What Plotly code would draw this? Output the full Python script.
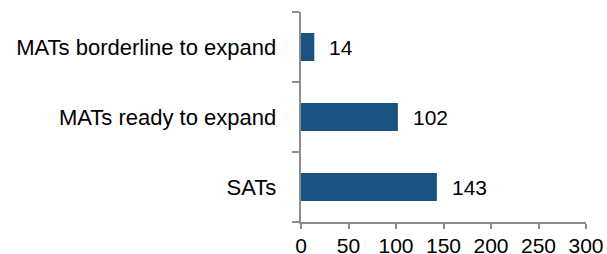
import plotly.graph_objects as go

categories = ["SATs", "MATs ready to expand", "MATs borderline to expand"]
values = [143, 102, 14]
x_ticks = [0, 50, 100, 150, 200, 250, 300]

FONT = "Liberation Sans, Arial"

fig = go.Figure()
fig.add_trace(go.Bar(
    x=values, y=categories, orientation="h",
    marker=dict(color="#1B5281", line=dict(width=0)),
    width=0.4, hoverinfo="skip",
))
for c, v in zip(categories, values):
    fig.add_annotation(x=v, y=c, text=str(v), showarrow=False,
                       xanchor="left", xshift=13,
                       font=dict(family=FONT, size=21, color="#000000"))

fig.update_layout(
    width=607, height=254,
    margin=dict(l=301, r=21, t=12, b=32, autoexpand=False),
    plot_bgcolor="white", paper_bgcolor="white",
    showlegend=False,
    font=dict(family=FONT, size=22, color="#000000"),
    xaxis=dict(range=[0, 300], tickvals=x_ticks, showgrid=False, zeroline=False,
               automargin=False,
               showline=True, linecolor="#8C8C8C", linewidth=2,
               ticks="outside", ticklen=5, tickwidth=2, tickcolor="#8C8C8C",
               tickfont=dict(size=21), ticklabelstandoff=-1),
    yaxis=dict(showgrid=False, zeroline=False, showline=True, linecolor="#8C8C8C", linewidth=2,
               automargin=False,
               ticks="outside", ticklen=7, tickwidth=2, tickcolor="#8C8C8C",
               tickson="boundaries", ticksuffix="   "),
)
fig.write_html("out.html", config={"displayModeBar": False},
               post_script="document.body.style.margin='0';")
